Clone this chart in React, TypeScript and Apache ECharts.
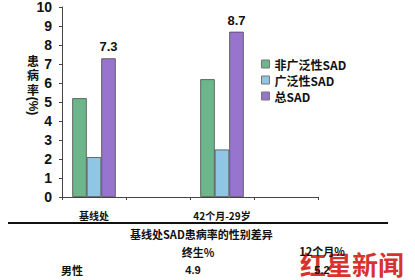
import React, { useEffect, useRef } from "react";
import * as echarts from "echarts";

const categories = ["基线处", "", "42个月-29岁", ""];
const seriesNames = ["非广泛性SAD", "广泛性SAD", "总SAD"];
const nonGeneralized = [5.2, null, 6.2, null];
const generalized = [2.1, null, 2.5, null];
const totalSAD = [7.3, null, 8.7, null];
const yTicks = { min: 0, max: 10, interval: 1 };
const yAxisNameChars = ["患", "病", "率"];
const yAxisUnit = "(%)";
const tableTitle = "基线处SAD患病率的性别差异";
const tableHeaders = ["终生%", "12个月%"];
const tableRowLabel = "男性";
const tableRowValues = ["4.9", "5.2"];

const CJK = '"Noto Sans CJK SC", "Liberation Sans", sans-serif';
const NUM = '"Liberation Sans", Arial, sans-serif';

export default function App() {
  const ref = useRef<HTMLDivElement>(null);
  useEffect(() => {
    if (!ref.current) return;
    const chart = echarts.init(ref.current, null, { renderer: "svg" });
    const colors = ["#6db68b", "#8fc6e6", "#9775cf"];
    const barStyle = (c: string) => ({ color: c, borderColor: "#4a4a4a", borderWidth: 0.8 });
    const tableText = (text: string, x: number, y: number, font: string, align = "center") => ({
      type: "text",
      x,
      y,
      style: {
        text,
        fontFamily: font,
        fontWeight: "bold",
        fontSize: 11,
        fill: "#111",
        align,
        verticalAlign: "middle",
      },
    });
    const nameChars = yAxisNameChars.map((ch, i) => ({
      type: "text",
      x: 33,
      y: 60 + i * 14.5,
      style: {
        text: ch,
        fontFamily: CJK,
        fontWeight: "bold",
        fontSize: 12,
        fill: "#111",
        align: "center",
        verticalAlign: "middle",
      },
    }));
    chart.setOption({
      animation: false,
      backgroundColor: "#ffffff",
      grid: { left: 62, right: 97, top: 1, bottom: 83 },
      legend: {
        orient: "vertical",
        left: 256,
        top: 53,
        itemWidth: 8,
        itemHeight: 8,
        itemGap: 4,
        icon: "rect",
        data: seriesNames,
        textStyle: { fontFamily: CJK, fontWeight: "bold", fontSize: 12, color: "#111" },
        itemStyle: { borderColor: "#777", borderWidth: 1 },
      },
      xAxis: {
        type: "category",
        data: categories,
        axisLine: { lineStyle: { color: "#444", width: 1 } },
        axisTick: { show: true, length: 3, lineStyle: { color: "#444" } },
        axisLabel: {
          interval: 0,
          margin: 13,
          fontFamily: CJK,
          fontWeight: "bold",
          fontSize: 10,
          color: "#111",
        },
      },
      yAxis: {
        type: "value",
        min: yTicks.min,
        max: yTicks.max,
        interval: yTicks.interval,
        axisLine: { show: true, lineStyle: { color: "#444" } },
        axisTick: { show: true, length: 3, lineStyle: { color: "#444" } },
        splitLine: { show: false },
        axisLabel: {
          margin: 10,
          fontFamily: NUM,
          fontWeight: "bold",
          fontSize: 14,
          color: "#111",
        },
      },
      series: [
        {
          name: seriesNames[0],
          type: "bar",
          data: nonGeneralized,
          barWidth: 14.5,
          barGap: "0%",
          itemStyle: barStyle(colors[0]),
        },
        {
          name: seriesNames[1],
          type: "bar",
          data: generalized,
          barWidth: 14.5,
          barGap: "0%",
          itemStyle: barStyle(colors[1]),
        },
        {
          name: seriesNames[2],
          type: "bar",
          data: totalSAD,
          barWidth: 14.5,
          barGap: "0%",
          itemStyle: barStyle(colors[2]),
          label: {
            show: true,
            position: "top",
            distance: 5,
            fontFamily: NUM,
            fontWeight: "bold",
            fontSize: 13,
            color: "#111",
          },
        },
      ],
      graphic: [
        ...nameChars,
        {
          type: "text",
          x: 33,
          y: 106,
          rotation: -Math.PI / 2,
          style: {
            text: yAxisUnit,
            fontFamily: NUM,
            fontWeight: "bold",
            fontSize: 12,
            fill: "#111",
            align: "center",
            verticalAlign: "middle",
          },
        },
        {
          type: "line",
          shape: { x1: 8, y1: 223, x2: 388, y2: 223 },
          style: { stroke: "#111", lineWidth: 2 },
        },
        {
          type: "text",
          x: 300,
          y: 263,
          style: {
            text: "红星新闻",
            fontFamily: CJK,
            fontWeight: "bold",
            fontSize: 26,
            fill: "#d8322e",
            verticalAlign: "middle",
          },
        },
        tableText(tableTitle, 130, 234, CJK, "left"),
        tableText(tableHeaders[0], 198, 252, CJK),
        tableText(tableHeaders[1], 322, 251, CJK),
        tableText(tableRowLabel, 72, 270, CJK),
        tableText(tableRowValues[0], 193, 270, NUM),
        tableText(tableRowValues[1], 322, 270, NUM),
      ],
    });
    return () => chart.dispose();
  }, []);
  return (
    <div
      ref={ref}
      style={{ position: "fixed", left: 0, top: 0, width: 415, height: 280 }}
    />
  );
}
